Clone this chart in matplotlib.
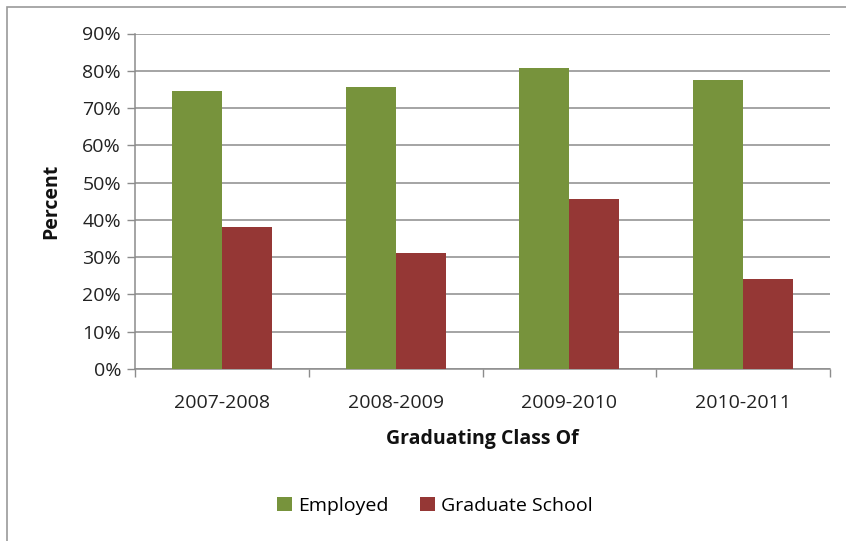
import numpy as np
import matplotlib
matplotlib.use("Agg")
import matplotlib.pyplot as plt
from matplotlib.patches import Rectangle
from matplotlib.ticker import FuncFormatter, FixedLocator

# graduating classes and outcome shares (percent)
classes = ["2007-2008", "2008-2009", "2009-2010", "2010-2011"]
employed = [74.6, 75.7, 80.8, 77.6]
grad_school = [38.0, 31.2, 45.6, 24.1]

GREEN = "#77933C"
RED = "#953735"
GRID = "#8c8c8c"
FS = 14

plt.rcParams["font.family"] = ["Open Sans", "DejaVu Sans"]

W, H = 846, 541
fig = plt.figure(figsize=(W / 100, H / 100), dpi=100, facecolor="white")

# outer chart frame (pixel coords from top-left)
def px(x, y):
    return x / W, 1 - y / H

frame = Rectangle(px(7, 560), (W + 20) / W, (560 - 7) / H, transform=fig.transFigure,
                  fill=False, edgecolor="#9a9a9a", linewidth=1.2)
fig.patches.append(frame)

left, right = 135, 830
top, bottom = 33.5, 369
ax = fig.add_axes([left / W, 1 - bottom / H, (right - left) / W, (bottom - top) / H])

x = np.arange(len(classes))
bw = 0.288
ax.bar(x - bw / 2, employed, width=bw, color=GREEN, label="Employed", zorder=3)
ax.bar(x + bw / 2, grad_school, width=bw, color=RED, label="Graduate School", zorder=3)

ax.set_xlim(-0.5, len(classes) - 0.5)
ax.set_ylim(0, 90)
ax.set_yticks(np.arange(0, 91, 10))
ax.yaxis.set_major_formatter(FuncFormatter(lambda v, p: f"{int(v)}%"))
ax.yaxis.grid(True, color=GRID, linewidth=1.1, zorder=0)

ax.set_xticks(x)
ax.set_xticklabels(classes)
ax.xaxis.set_minor_locator(FixedLocator(np.arange(-0.5, len(classes), 1.0)))
ax.tick_params(axis="x", which="major", length=0, pad=18, labelsize=FS, colors="#222222")
ax.tick_params(axis="x", which="minor", length=6, width=1, color=GRID, direction="out")
ax.tick_params(axis="y", length=6, width=1, color=GRID, pad=4, labelsize=FS, labelcolor="#222222")

for s in ["top", "right"]:
    ax.spines[s].set_visible(False)
for s in ["left", "bottom"]:
    ax.spines[s].set_color(GRID)
    ax.spines[s].set_linewidth(1.1)

ax.set_ylabel("Percent", fontsize=FS, fontweight="bold", labelpad=15, color="#111111")
ax.set_xlabel("Graduating Class Of", fontsize=FS, fontweight="bold", labelpad=12, color="#111111")

fig.legend(loc="center", bbox_to_anchor=(435 / W, 1 - 506 / H), ncol=2, frameon=False,
           fontsize=FS, handlelength=0.75, handleheight=0.75, handletextpad=0.35,
           columnspacing=1.6)

fig.savefig("out.png", dpi=100, facecolor="white")
